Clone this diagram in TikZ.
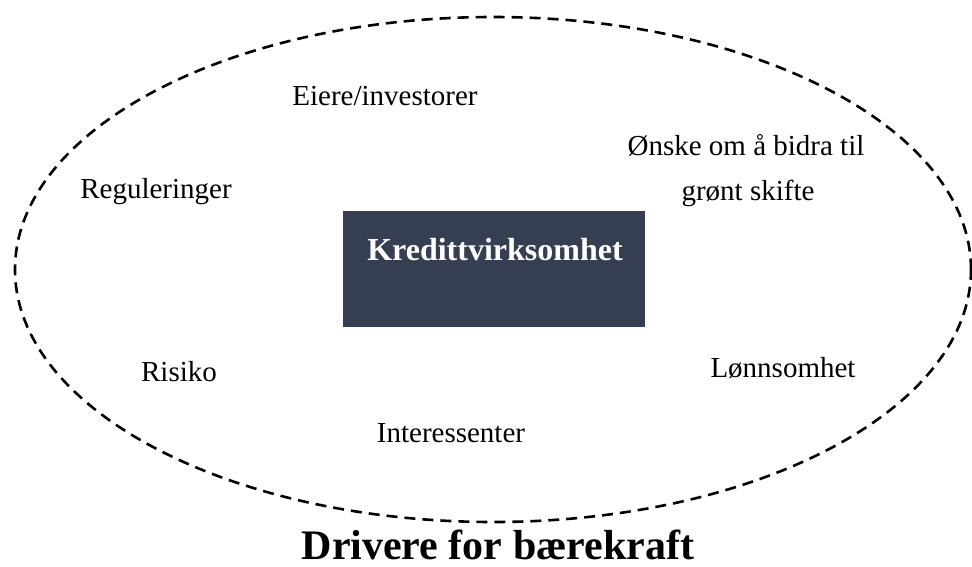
\documentclass[tikz,border=0pt]{standalone}
\usepackage{fontspec}
\setmainfont{Liberation Serif}
\usetikzlibrary{shapes.geometric}
\definecolor{boxblue}{HTML}{353F51}
\begin{document}
\begin{tikzpicture}[x=1pt,y=-1pt,
  lbl/.style={anchor=base,inner sep=0pt,font=\fontsize{29}{35}\selectfont},
  driver/.style={draw,line width=2.6pt,dash pattern=on 11pt off 7pt}]
\useasboundingbox (0,0) rectangle (972,566);
\node[driver,ellipse,minimum width=956pt,minimum height=505pt,inner sep=0pt] (ell) at (493,269.5) {};
\node[fill=boxblue,minimum width=302pt,minimum height=116pt,inner sep=0pt] (box) at (494,269) {};
\node[anchor=base,inner sep=0pt,text=white,font=\fontsize{32}{38}\selectfont\bfseries] (kred) at (495,260) {Kredittvirksomhet};
\node[lbl] (eiere) at (385,105) {Eiere/investorer};
\node[lbl] (onske) at (746,155) {Ønske om å bidra til};
\node[lbl] (gront) at (748,200) {grønt skifte};
\node[lbl] (reg) at (156,198) {Reguleringer};
\node[lbl] (risiko) at (179,381) {Risiko};
\node[lbl] (lonn) at (783,377) {Lønnsomhet};
\node[lbl] (inter) at (451,442) {Interessenter};
\node[anchor=base,inner sep=0pt,font=\fontsize{42}{50}\selectfont\bfseries] (title) at (498,559) {Drivere for bærekraft};
\end{tikzpicture}
\end{document}
